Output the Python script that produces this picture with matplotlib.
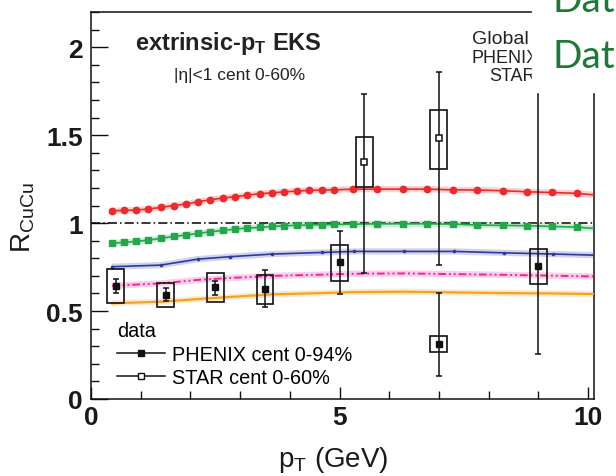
import matplotlib
matplotlib.use("Agg")
import matplotlib.pyplot as plt
import numpy as np
from matplotlib.lines import Line2D
from matplotlib.patches import Rectangle
from matplotlib.ticker import FixedLocator, MultipleLocator, FuncFormatter

plt.rcParams["font.family"] = ["Liberation Sans", "DejaVu Sans"]
plt.rcParams["mathtext.fontset"] = "custom"
plt.rcParams["mathtext.rm"] = "Liberation Sans"
plt.rcParams["mathtext.it"] = "Liberation Sans:italic"
plt.rcParams["mathtext.bf"] = "Liberation Sans:bold"

# model curves with markers (extrinsic-pT, EKS shadowing)
pt_model = [0.42, 0.66, 0.90, 1.15, 1.40, 1.66, 1.91, 2.15, 2.40, 2.65,
            2.90, 3.14, 3.40, 3.65, 3.89, 4.14, 4.39, 4.64, 4.89, 5.27,
            5.76, 6.27, 6.77, 7.28, 7.77, 8.28, 8.78, 9.27, 9.77, 10.1]
r_red = [1.070, 1.072, 1.074, 1.080, 1.089, 1.100, 1.108, 1.121, 1.133, 1.142,
         1.150, 1.159, 1.167, 1.172, 1.178, 1.182, 1.186, 1.188, 1.189, 1.193,
         1.193, 1.193, 1.193, 1.189, 1.188, 1.184, 1.178, 1.174, 1.169, 1.161]
r_green = [0.886, 0.890, 0.896, 0.903, 0.913, 0.924, 0.932, 0.941, 0.951, 0.958,
           0.966, 0.972, 0.975, 0.981, 0.985, 0.987, 0.989, 0.991, 0.992, 0.994,
           0.996, 0.996, 0.996, 0.994, 0.989, 0.987, 0.985, 0.981, 0.977, 0.970]

# curves without big markers
pt_curve = [0.42, 1.40, 2.15, 2.80, 3.65, 4.64, 5.30, 6.30, 7.30, 8.30, 9.30, 10.1]
r_blue = [0.752, 0.761, 0.795, 0.809, 0.824, 0.833, 0.839, 0.839, 0.839, 0.831, 0.824, 0.818]
r_magenta = [0.644, 0.657, 0.677, 0.688, 0.700, 0.707, 0.712, 0.714, 0.710, 0.706, 0.701, 0.697]
r_orange = [0.544, 0.553, 0.568, 0.580, 0.595, 0.602, 0.608, 0.610, 0.606, 0.602, 0.600, 0.597]

# PHENIX Cu+Cu, 0-94%
pt_phenix = np.array([0.5, 1.5, 2.5, 3.5, 5.0, 7.0, 9.0])
r_phenix = np.array([0.640, 0.593, 0.634, 0.625, 0.777, 0.312, 0.754])
stat_lo_phenix = np.array([0.600, 0.555, 0.593, 0.524, 0.598, 0.129, 0.256])
stat_hi_phenix = np.array([0.680, 0.629, 0.672, 0.733, 0.953, 0.602, 2.000])
syst_lo_phenix = np.array([0.544, 0.521, 0.549, 0.540, 0.672, 0.265, 0.653])
syst_hi_phenix = np.array([0.739, 0.657, 0.716, 0.705, 0.875, 0.360, 0.852])

# STAR Cu+Cu, 0-60%
pt_star = np.array([5.5, 7.0])
r_star = np.array([1.345, 1.483])
stat_lo_star = np.array([0.714, 0.761])
stat_hi_star = np.array([1.733, 1.860])
syst_lo_star = np.array([1.203, 1.307])
syst_hi_star = np.array([1.492, 1.642])

BOX_HALF = 0.17

fig = plt.figure(figsize=(6.16, 4.77), dpi=100)
ax = fig.add_axes([91 / 616, 77 / 477, 503 / 616, 387 / 477])
ax.set_xlim(0, 10.12)
ax.set_ylim(0, 2.2)


def model_curve(x, y, color, ls="-", lw=1.2, **kw):
    # pale uncertainty band under the central line
    ax.plot(x, y, color=color, lw=4.5, alpha=0.22, solid_capstyle="butt", zorder=2)
    ax.plot(x, y, color=color, lw=lw, ls=ls, zorder=3, **kw)


ax.axhline(1.0, color="k", lw=1.1, ls=(0, (6, 2, 1, 2)), zorder=2)
model_curve(pt_model, r_red, "#ec2a2c", marker="o", ms=4.6, markevery=slice(0, -1))
model_curve(pt_model, r_green, "#22a84a", marker="s", ms=4.0, markevery=slice(0, -1))
model_curve(pt_curve, r_blue, "#2b3a9c", marker="o", ms=1.6, markevery=slice(0, -1))
model_curve(pt_curve, r_magenta, "#f0259a", ls=(0, (4, 1.5, 1, 1.5, 1, 1.5)), lw=1.4)
model_curve(pt_curve, r_orange, "#f4a21f", lw=1.6)


def data_points(pt, r, slo, shi, ylo, yhi, **kw):
    for x, lo, hi in zip(pt, ylo, yhi):
        ax.add_patch(Rectangle((x - BOX_HALF, lo), 2 * BOX_HALF, hi - lo,
                               fill=False, ec="#111111", lw=1.2, zorder=4))
    ax.errorbar(pt, r, yerr=[r - slo, shi - r], fmt="s", color="#111111",
                elinewidth=1.1, capsize=2, capthick=1.1, zorder=5, **kw)


data_points(pt_phenix, r_phenix, stat_lo_phenix, stat_hi_phenix,
            syst_lo_phenix, syst_hi_phenix, ms=4.5)
data_points(pt_star, r_star, stat_lo_star, stat_hi_star,
            syst_lo_star, syst_hi_star, ms=5, mfc="white", mew=1.1)

# axes cosmetics
ax.xaxis.set_major_locator(FixedLocator([0, 5, 10]))
ax.xaxis.set_minor_locator(MultipleLocator(1))
ax.yaxis.set_major_locator(MultipleLocator(0.5))
ax.yaxis.set_minor_locator(MultipleLocator(0.1))
ax.yaxis.set_major_formatter(FuncFormatter(lambda v, _: f"{v:g}"))
ax.tick_params(axis="both", which="both", direction="in", top=False, right=False,
               width=1.0, labelsize=19, color="#111111", labelcolor="#1a1a1a")
ax.tick_params(axis="y", which="major", length=12, pad=6)
ax.tick_params(axis="y", which="minor", length=6)
ax.tick_params(axis="x", which="major", length=9, pad=4)
ax.tick_params(axis="x", which="minor", length=6)
for lab in ax.get_xticklabels() + ax.get_yticklabels():
    lab.set_fontweight("bold")
for sp in ax.spines.values():
    sp.set_linewidth(1.1)
    sp.set_color("#111111")

ax.set_ylabel(r"R$_{\mathrm{CuCu}}$", fontsize=20, color="#1a1a1a")
ax.yaxis.set_label_coords(-0.107, 0.47)
ax.set_xlabel(r"p$_{\mathrm{T}}$ (GeV)", fontsize=20, color="#1a1a1a")
ax.xaxis.set_label_coords(0.481, -0.115)

ax.text(0.0875, 0.922, r"extrinsic-p$_{\mathbf{T}}$ EKS", transform=ax.transAxes,
        fontsize=17, fontweight="bold", color="#222222", va="center", ha="left")
ax.text(0.165, (400 - 76) / 387, "|η|<1 cent 0-60%", transform=ax.transAxes,
        fontsize=12.5, color="#222222", va="center", ha="left")
ax.text(0.757, (400 - 40) / 387, "Global", transform=ax.transAxes, fontsize=14,
        color="#222222", va="center", ha="left")
ax.text(0.757, (400 - 59) / 387, "PHENIX", transform=ax.transAxes, fontsize=13,
        color="#222222", va="center", ha="left")
ax.text(0.791, (400 - 77) / 387, "STAR", transform=ax.transAxes, fontsize=13,
        color="#222222", va="center", ha="left")

handles = [Line2D([], [], color="#111111", lw=1.1, marker="s", ms=4.5),
           Line2D([], [], color="#111111", lw=1.1, marker="s", ms=4, mfc="white")]
ax.legend(handles, ["PHENIX cent 0-94%", "STAR cent 0-60%"], title="data",
          loc="lower left", bbox_to_anchor=(0.052, 0.031), frameon=False,
          fontsize=14.3, title_fontsize=14.3, alignment="left", handlelength=2.4,
          handletextpad=0.35, labelspacing=0.22, borderpad=0, borderaxespad=0)

# slide overlay in the top-right corner
fig.add_artist(Rectangle((532 / 616, (477 - 93) / 477), 1, 1,
                         transform=fig.transFigure, color="white", zorder=10))
for yb in (0.975, 0.857):
    fig.text(553 / 616, yb, "Dat", fontsize=28, family="Lato", color="#1a7a36",
             va="baseline", ha="left", zorder=11)

fig.savefig("out.png", dpi=100)
